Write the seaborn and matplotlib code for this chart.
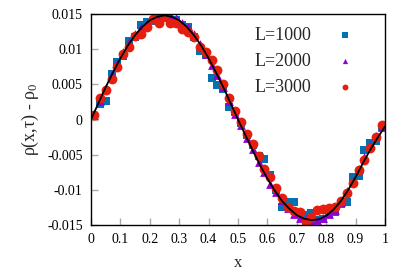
import matplotlib
matplotlib.use("Agg")
import matplotlib.pyplot as plt
import numpy as np
import pandas as pd
import seaborn as sns

# sample positions (same bins for every system size)
x_pts = [0.01, 0.03, 0.05, 0.07, 0.09, 0.11, 0.13, 0.15, 0.17, 0.19,
         0.21, 0.23, 0.25, 0.27, 0.29, 0.31, 0.33, 0.35, 0.37, 0.39,
         0.41, 0.43, 0.45, 0.47, 0.49, 0.51, 0.53, 0.55, 0.57, 0.59,
         0.61, 0.63, 0.65, 0.67, 0.69, 0.71, 0.73, 0.75, 0.77, 0.79,
         0.81, 0.83, 0.85, 0.87, 0.89, 0.91, 0.93, 0.95, 0.97, 0.99]

rho_1000 = [0.0005, 0.0022, 0.0027, 0.0065, 0.0082, 0.0091, 0.0112, 0.0117, 0.0135, 0.0138,
            0.0140, 0.0146, 0.0148, 0.0142, 0.0142, 0.0135, 0.0132, 0.0118, 0.0098, 0.0092,
            0.0059, 0.0049, 0.0043, 0.0018, 0.0010, -0.0005, -0.0022, -0.0036, -0.0052, -0.0056,
            -0.0079, -0.0100, -0.0124, -0.0118, -0.0117, -0.0134, -0.0136, -0.0133, -0.0143, -0.0142,
            -0.0135, -0.0131, -0.0120, -0.0118, -0.0082, -0.0080, -0.0044, -0.0034, -0.0030, -0.0011]

rho_2000 = [0.0007, 0.0026, 0.0045, 0.0064, 0.0080, 0.0096, 0.0110, 0.0121, 0.0131, 0.0137,
            0.0144, 0.0146, 0.0146, 0.0150, 0.0144, 0.0137, 0.0131, 0.0121, 0.0107, 0.0093,
            0.0078, 0.0063, 0.0046, 0.0027, 0.0008, -0.0008, -0.0027, -0.0042, -0.0060, -0.0075,
            -0.0092, -0.0103, -0.0115, -0.0126, -0.0134, -0.0140, -0.0141, -0.0146, -0.0143, -0.0140,
            -0.0135, -0.0128, -0.0118, -0.0102, -0.0088, -0.0070, -0.0053, -0.0038, -0.0024, -0.0010]

rho_3000 = [0.0006, 0.0031, 0.0042, 0.0058, 0.0075, 0.0093, 0.0103, 0.0119, 0.0122, 0.0131,
            0.0143, 0.0137, 0.0147, 0.0137, 0.0137, 0.0129, 0.0125, 0.0117, 0.0103, 0.0096,
            0.0084, 0.0070, 0.0051, 0.0030, 0.0012, -0.0004, -0.0020, -0.0035, -0.0052, -0.0070,
            -0.0082, -0.0098, -0.0112, -0.0124, -0.0130, -0.0131, -0.0146, -0.0138, -0.0129, -0.0127,
            -0.0126, -0.0124, -0.0116, -0.0104, -0.0090, -0.0072, -0.0058, -0.0040, -0.0025, -0.0008]

# theory curve
x_line = [0.0, 0.025, 0.05, 0.075, 0.1, 0.125, 0.15, 0.175, 0.2, 0.225,
          0.25, 0.275, 0.3, 0.325, 0.35, 0.375, 0.4, 0.425, 0.45, 0.475,
          0.5, 0.525, 0.55, 0.575, 0.6, 0.625, 0.65, 0.675, 0.7, 0.725,
          0.75, 0.775, 0.8, 0.825, 0.85, 0.875, 0.9, 0.925, 0.95, 0.975, 1.0]
y_line = [0.0, 0.0023, 0.0046, 0.0067, 0.0087, 0.0105, 0.0120, 0.0132, 0.0141, 0.0146,
          0.0148, 0.0146, 0.0141, 0.0132, 0.0120, 0.0105, 0.0087, 0.0067, 0.0046, 0.0023,
          0.0000, -0.0022, -0.0044, -0.0065, -0.0084, -0.0101, -0.0116, -0.0127, -0.0136, -0.0141,
          -0.0143, -0.0142, -0.0137, -0.0128, -0.0116, -0.0100, -0.0082, -0.0062, -0.0043, -0.0026, -0.0010]

labels = ["L=1000", "L=2000", "L=3000"]

df = pd.concat([
    pd.DataFrame({"x": x_pts, "rho": rho_1000, "L": labels[0]}),
    pd.DataFrame({"x": x_pts, "rho": rho_2000, "L": labels[1]}),
    pd.DataFrame({"x": x_pts, "rho": rho_3000, "L": labels[2]}),
])
line_df = pd.DataFrame({"x": x_line, "rho": y_line})

sns.set_theme(style="ticks")
plt.rcParams["font.family"] = ["Liberation Serif", "DejaVu Serif"]
plt.rcParams["axes.unicode_minus"] = False
plt.rcParams["mathtext.fontset"] = "custom"
plt.rcParams["mathtext.rm"] = "Liberation Serif"
plt.rcParams["mathtext.it"] = "Liberation Serif"

fig = plt.figure(figsize=(4.11, 2.73), dpi=100)
ax = fig.add_axes([0.2214, 0.1758, 0.9367 - 0.2214, 0.9487 - 0.1758])

pal = {labels[0]: "#0072b2", labels[1]: "#9400d3", labels[2]: "#e51e10"}
marks = {labels[0]: "s", labels[1]: "^", labels[2]: "o"}
sizes = {labels[0]: 40, labels[1]: 40, labels[2]: 50}

for lab in labels:
    sub = df[df["L"] == lab]
    sns.scatterplot(data=sub, x="x", y="rho", color=pal[lab], marker=marks[lab],
                    s=sizes[lab], linewidth=0, label=lab, ax=ax, zorder=2)

sns.lineplot(data=line_df, x="x", y="rho", color="black", linewidth=1.3,
             ax=ax, zorder=3, legend=False)

ax.set_xlim(0, 1)
ax.set_ylim(-0.015, 0.015)
ax.set_xticks([0, 0.1, 0.2, 0.3, 0.4, 0.5, 0.6, 0.7, 0.8, 0.9, 1])
ax.set_xticklabels(["0", "0.1", "0.2", "0.3", "0.4", "0.5", "0.6", "0.7", "0.8", "0.9", "1"])
ax.set_yticks([-0.015, -0.01, -0.005, 0, 0.005, 0.01, 0.015])
ax.set_yticklabels(["-0.015", "-0.01", "-0.005", "0", "0.005", "0.01", "0.015"])
ax.tick_params(direction="in", length=5, width=1, color="#aaaaaa", labelsize=10,
               labelcolor="black", pad=6)
for sp in ax.spines.values():
    sp.set_color("black")
    sp.set_linewidth(1)

ax.set_xlabel("x", fontsize=12, labelpad=6)
ax.set_ylabel("ρ(x,τ) - ρ$_{0}$", fontsize=13, labelpad=4)

ax.legend(loc="upper right", frameon=False, markerfirst=False, fontsize=13,
          markerscale=0.6, handletextpad=0.9, labelspacing=0.5,
          bbox_to_anchor=(0.97, 1.0), borderaxespad=0.3)

fig.savefig("out.png", dpi=100)
